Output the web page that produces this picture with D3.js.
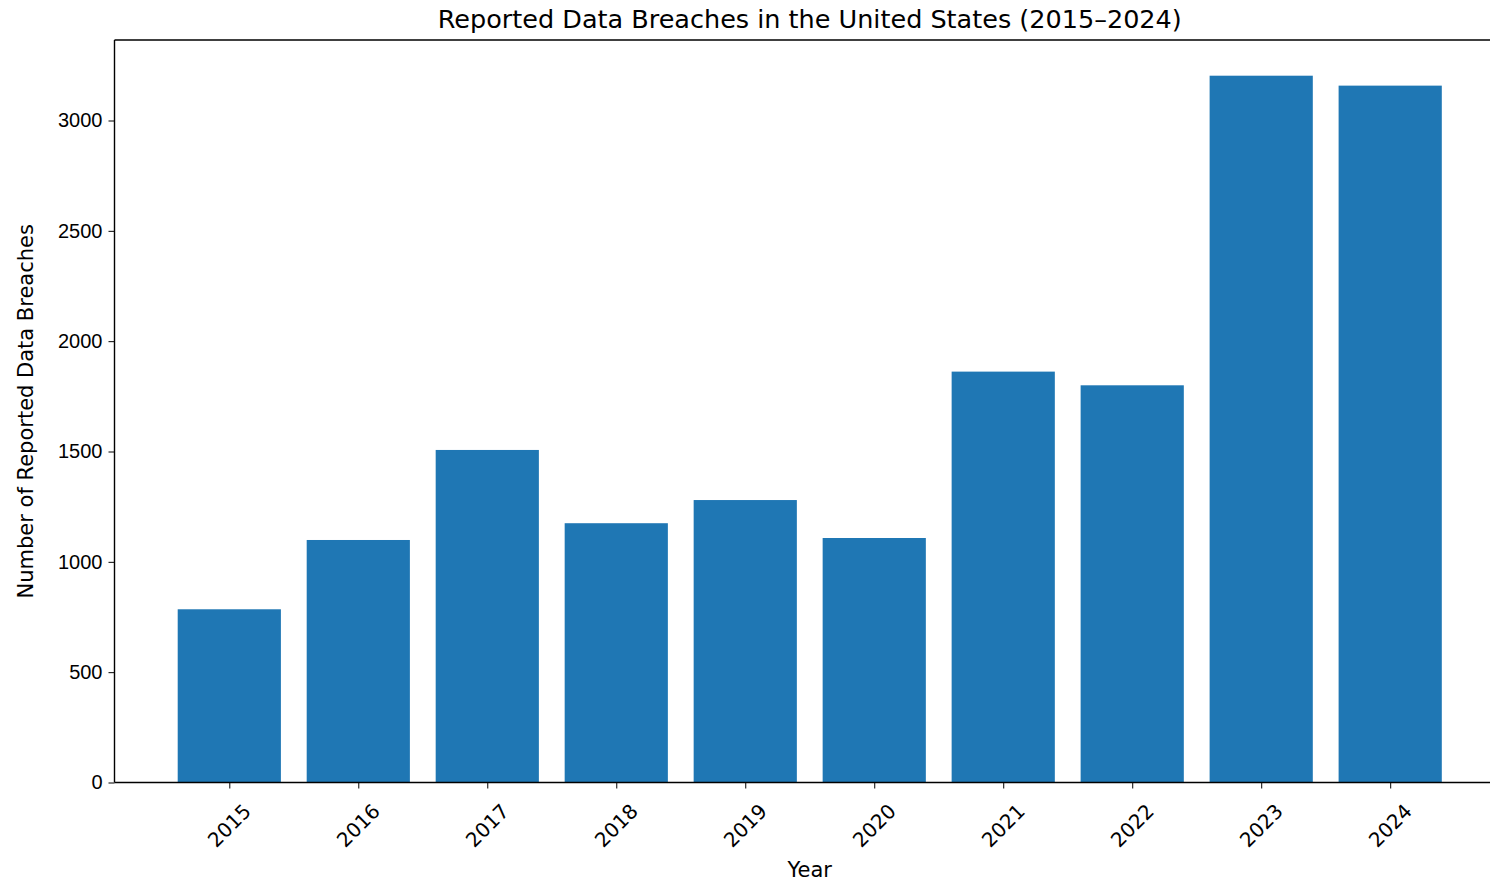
<!DOCTYPE html>
<html>
<head>
<meta charset="utf-8">
<script src="https://cdn.jsdelivr.net/npm/d3@7"></script>
<style>
  body { margin: 0; background: #fff; }
  svg { font-family: "DejaVu Sans", sans-serif; }
</style>
</head>
<body>
<div id="viz"></div>
<script>
const years = ['2015', '2016', '2017', '2018', '2019', '2020', '2021', '2022', '2023', '2024'];
const breaches = [785, 1099, 1507, 1175, 1280, 1108, 1862, 1800, 3203, 3158];
const yTicks = [0, 500, 1000, 1500, 2000, 2500, 3000];

const width = 1490;
const height = 879;
const margin = {top: 40, right: -15, bottom: 96.5, left: 114.5};
const barColor = '#1f77b4';

const svg = d3.select('#viz')
  .append('svg')
  .attr('width', width)
  .attr('height', height);

// x: matplotlib-like padding of 0.05 around bars of width 0.8
const n = years.length;
const x = d3.scaleLinear()
  .domain([-0.89, n - 1 + 0.89])
  .range([margin.left, width - margin.right]);

const y = d3.scaleLinear()
  .domain([0, 3000])
  .range([height - margin.bottom, height - margin.bottom - 662]);

// bars
svg.selectAll('.bar')
  .data(breaches)
  .join('rect')
  .attr('class', 'bar')
  .attr('x', (d, i) => x(i - 0.4))
  .attr('width', x(0.8) - x(0))
  .attr('y', d => y(d))
  .attr('height', d => y(0) - y(d))
  .attr('fill', barColor);

// y axis
const yAxis = svg.append('g')
  .attr('transform', `translate(${margin.left},0)`)
  .call(d3.axisLeft(y).tickValues(yTicks).tickFormat(d3.format('d')).tickSize(6).tickPadding(6));
yAxis.select('.domain').remove();
yAxis.selectAll('text').style('font-size', '20px').attr('fill', '#000');

// x axis
const xAxis = svg.append('g')
  .attr('transform', `translate(0,${y(0)})`)
  .call(d3.axisBottom(x).tickValues(d3.range(n)).tickSize(6).tickFormat(''));
xAxis.select('.domain').remove();

svg.selectAll('.xlab')
  .data(years)
  .join('text')
  .attr('class', 'xlab')
  .attr('transform', (d, i) => `translate(${x(i)},${y(0) + 43}) rotate(-45)`)
  .attr('text-anchor', 'middle')
  .attr('dominant-baseline', 'central')
  .style('font-size', '20px')
  .text(d => d);

// spines
const spine = svg.append('g').attr('stroke', '#000').attr('stroke-width', 1.4).attr('fill', 'none');
spine.append('line').attr('x1', margin.left).attr('x2', margin.left).attr('y1', margin.top).attr('y2', y(0));
spine.append('line').attr('x1', margin.left).attr('x2', width - margin.right).attr('y1', y(0)).attr('y2', y(0));
spine.append('line').attr('x1', margin.left).attr('x2', width - margin.right).attr('y1', margin.top).attr('y2', margin.top);
spine.append('line').attr('x1', width - margin.right).attr('x2', width - margin.right).attr('y1', margin.top).attr('y2', y(0));

// title and labels
const cx = (margin.left + width - margin.right) / 2;
svg.append('text')
  .attr('x', cx)
  .attr('y', 28)
  .attr('text-anchor', 'middle')
  .style('font-size', '25.5px')
  .text('Reported Data Breaches in the United States (2015–2024)');

svg.append('text')
  .attr('x', cx)
  .attr('y', 877)
  .attr('text-anchor', 'middle')
  .style('font-size', '21px')
  .text('Year');

svg.append('text')
  .attr('transform', `translate(33,${(margin.top + y(0)) / 2}) rotate(-90)`)
  .attr('text-anchor', 'middle')
  .style('font-size', '21px')
  .text('Number of Reported Data Breaches');
</script>
</body>
</html>
